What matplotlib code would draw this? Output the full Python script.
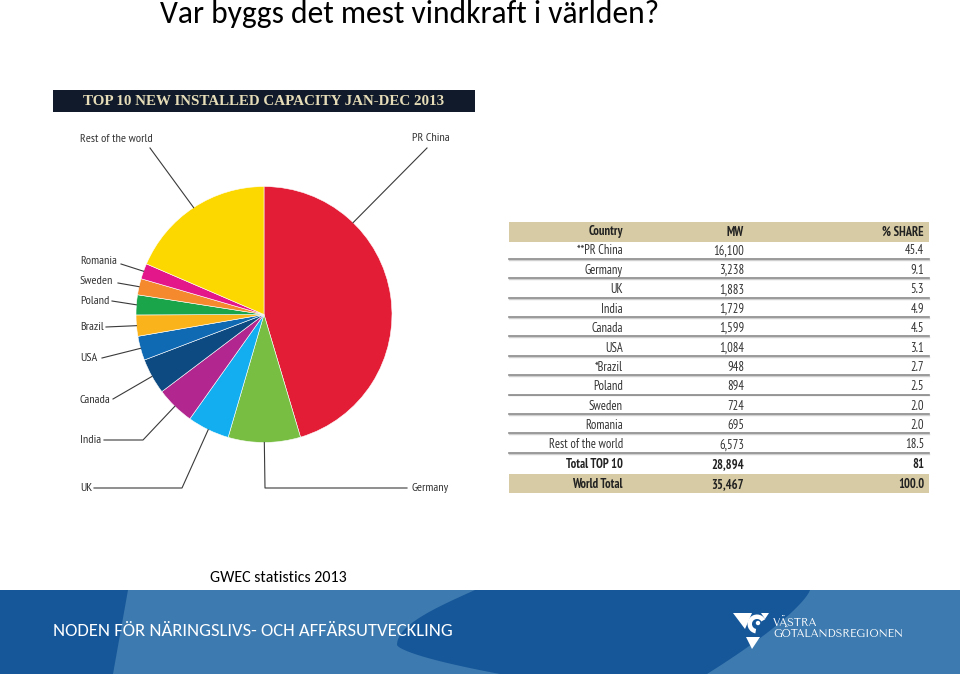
import numpy as np
import matplotlib
matplotlib.use("Agg")
import matplotlib.pyplot as plt
from matplotlib import font_manager
from matplotlib.patches import Rectangle, Polygon, Wedge, Circle

# data
countries = ["PR China", "Germany", "UK", "India", "Canada", "USA",
             "Brazil", "Poland", "Sweden", "Romania", "Rest of the world"]
mw = [16100, 3238, 1883, 1729, 1599, 1084, 948, 894, 724, 695, 6573]
colors = ["#E31D36", "#77BE43", "#12AEEF", "#B1268F", "#0D4A82", "#1069B3",
          "#FBB31C", "#1AA54B", "#F48A2D", "#E3178A", "#FDD800"]

table_country = ["**PR China", "Germany", "UK", "India", "Canada", "USA",
                 "*Brazil", "Poland", "Sweden", "Romania", "Rest of the world"]
table_mw = ["16,100", "3,238", "1,883", "1,729", "1,599", "1,084",
            "948", "894", "724", "695", "6,573"]
table_share = ["45.4", "9.1", "5.3", "4.9", "4.5", "3.1",
               "2.7", "2.5", "2.0", "2.0", "18.5"]
total_rows = [("Total TOP 10", "28,894", "81"), ("World Total", "35,467", "100.0")]

installed = {f.name for f in font_manager.fontManager.ttflist}


def pick(names, default="DejaVu Sans"):
    for n in names:
        if n in installed:
            return n
    return default


NARROW = pick(["PT Sans Narrow", "Fira Sans Condensed", "Roboto Condensed",
               "Liberation Sans Narrow", "Open Sans Condensed", "Encode Sans Condensed",
               "Asap Condensed", "Archivo Narrow", "Ubuntu Condensed"])
SANS = pick(["Carlito", "Lato", "Open Sans"])
SERIF = pick(["Liberation Serif", "DejaVu Serif"], "DejaVu Serif")
LOGO = pick(["Tenor Sans", "Marcellus", "Cinzel", "Lato"])
calibri = SANS == "Carlito"

fig = plt.figure(figsize=(9.6, 6.74), dpi=100)
ax = fig.add_axes([0, 0, 1, 1])

# pie (pixel coords, y axis flipped -> counterclock=True draws clockwise on screen)
cx, cy, r = 264, 314.5, 128
wedges, _ = ax.pie(mw, colors=colors, startangle=270, counterclock=True,
                   center=(cx, cy), radius=r,
                   wedgeprops=dict(edgecolor="white", linewidth=0.4))
ax.set_xlim(0, 960)
ax.set_ylim(674, 0)
ax.set_aspect("auto")
ax.axis("off")

# leader lines: label position, bend points, where along the wedge it ends
labels = {
    "PR China": ((450, 138, "right"), [(427, 148)], 0.27),
    "Germany": ((412, 488, "left"), [(407, 488), (265, 488)], 0.5),
    "UK": ((80, 488, "left"), [(94, 488), (182, 488)], 0.5),
    "India": ((80, 440, "left"), [(104, 440), (143, 440)], 0.5),
    "Canada": ((80, 400, "left"), [(113, 399)], 0.5),
    "USA": ((80, 358, "left"), [(102, 358)], 0.5),
    "Brazil": ((80, 327, "left"), [(106, 327)], 0.5),
    "Poland": ((80, 301, "left"), [(112, 301)], 0.5),
    "Sweden": ((80, 281, "left"), [(118, 283)], 0.5),
    "Romania": ((80, 261, "left"), [(121, 264)], 0.5),
    "Rest of the world": ((80, 139, "left"), [(150, 148)], 0.5),
}
for w, name in zip(wedges, countries):
    (tx, ty, ha), pts, frac = labels[name]
    ang = np.deg2rad(w.theta1 + frac * (w.theta2 - w.theta1))
    end = (cx + r * np.cos(ang), cy + r * np.sin(ang))
    xs = [p[0] for p in pts] + [end[0]]
    ys = [p[1] for p in pts] + [end[1]]
    ax.plot(xs, ys, color="#3a3a3a", lw=0.8)
    ax.text(tx, ty, name, ha=ha, va="center", fontsize=8.7, family=NARROW,
            color="#333333")

# dark header bar
ax.add_patch(Rectangle((53, 90), 422, 22, facecolor="#101a2a", edgecolor="none"))
ax.text(264, 101.5, "TOP 10 NEW INSTALLED CAPACITY JAN-DEC 2013", ha="center",
        va="center", fontsize=10.8, family=SERIF, weight="bold",
        color="#E6DDB8")

# table
tan = "#D6CBA4"
x0, x1 = 509, 929
col_country, col_mw, col_share = 623, 744, 924
row_h = 19.4
y_first = 251.0
fs = 9.0
ax.add_patch(Rectangle((x0, 221.5), x1 - x0, 20.5, facecolor=tan, edgecolor="none"))
for txt, xx in [("Country", col_country), ("MW", col_mw), ("% SHARE", col_share)]:
    ax.text(xx, 232, txt, ha="right", va="center", fontsize=fs, family=NARROW,
            weight="bold", color="#222222")
for i, (c, m, s) in enumerate(zip(table_country, table_mw, table_share)):
    yy = y_first + i * row_h
    for txt, xx in [(c, col_country), (m, col_mw), (s, col_share)]:
        ax.text(xx, yy, txt, ha="right", va="center", fontsize=fs,
                family=NARROW, color="#333333")
    ly = yy + 7.8
    ax.plot([x0, x1], [ly + 0.9, ly + 0.9], color="#d0d0d0", lw=1.0)
    ax.plot([x0, x1], [ly, ly], color="#8a8a8a", lw=1.2)
n = len(table_country)
ax.add_patch(Rectangle((x0, y_first + (n + 0.5) * row_h - 0.3), x1 - x0, 19,
                       facecolor=tan, edgecolor="none"))
for j, (c, m, s) in enumerate(total_rows):
    yy = y_first + (n + j) * row_h + 0.5
    for txt, xx in [(c, col_country), (m, col_mw), (s, col_share)]:
        ax.text(xx, yy, txt, ha="right", va="center", fontsize=fs,
                family=NARROW, weight="bold", color="#222222")

# slide title and source
ax.text(160, 23, "Var byggs det mest vindkraft i världen?", ha="left",
        va="baseline", fontsize=22.7 if calibri else 20.9,
        family=SANS, color="black")
ax.text(210, 578, "GWEC statistics 2013", ha="left", va="center",
        fontsize=11.5 if calibri else 10.1, family=SANS, color="black")

# footer band
light, dark = "#3D7AAF", "#16579A"
ax.add_patch(Rectangle((0, 590), 960, 84, facecolor=light, edgecolor="none"))
ax.add_patch(Polygon([(0, 590), (128, 590), (113, 674), (0, 674)],
                     facecolor=dark, edgecolor="none"))
t = np.linspace(0, 1, 30)
upper = [(475 - 78 * np.sin(np.pi / 2 * k), 590 + 55 * k) for k in t]
lower = [(397 + 103 * k ** 1.5, 645 + 29 * k) for k in t]
right = [(810 - 103 * (1 - k) ** 1.3, 674 - 84 * k) for k in t]
shape = upper + lower + right + [(707, 590)]
ax.add_patch(Polygon(shape, closed=True, facecolor=dark, edgecolor="none"))
ax.text(53, 631, "NODEN FÖR NÄRINGSLIVS- OCH AFFÄRSUTVECKLING", ha="left",
        va="center", fontsize=13.4 if calibri else 11.2,
        family=SANS, color="white")

# logo
ax.add_patch(Polygon([(733, 613), (752, 613), (745, 629)], facecolor="white",
                     edgecolor="none"))
ax.add_patch(Polygon([(761, 613), (769, 613), (765, 619)], facecolor="white",
                     edgecolor="none"))
ax.add_patch(Wedge((757, 624), 9.5, 100, 330, width=4.5, facecolor="white",
                   edgecolor="none"))
ax.add_patch(Circle((758, 623), 2.2, facecolor="white", edgecolor="none"))
ax.add_patch(Polygon([(746, 637), (760, 637), (752, 649)], facecolor="white",
                     edgecolor="none"))
ax.text(773, 623, "VÄSTRA", ha="left", va="center", fontsize=7.7,
        family=LOGO, color="white")
ax.text(773, 634.5, "GÖTALANDSREGIONEN", ha="left", va="center", fontsize=7.7,
        family=LOGO, color="white")

fig.savefig("out.png", dpi=100)
